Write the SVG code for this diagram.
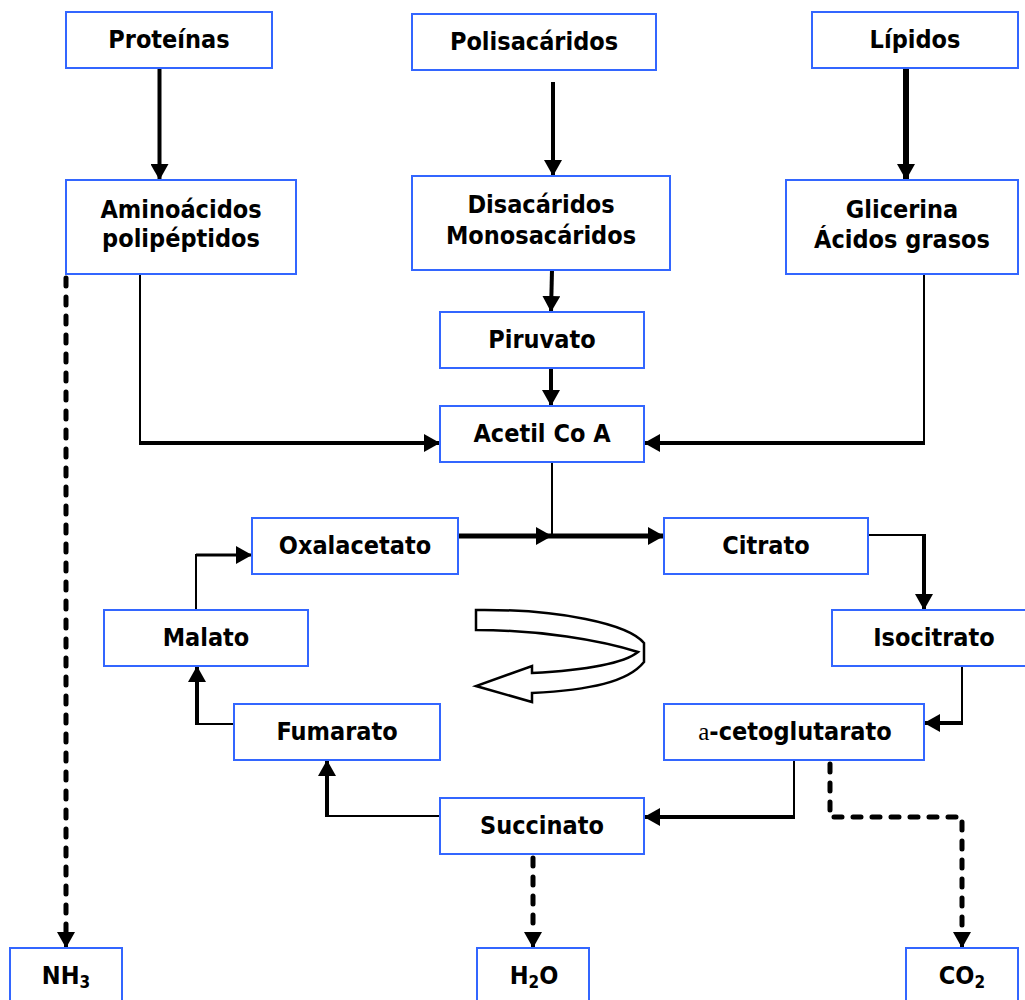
<svg xmlns="http://www.w3.org/2000/svg" width="1025" height="1000" viewBox="0 0 1025 1000">
<style>
.box{fill:#fff;stroke:#3366ff;stroke-width:2}
.t{font-family:"DejaVu Sans Condensed","DejaVu Sans",Verdana,sans-serif;font-stretch:condensed;font-weight:bold;font-size:25px;fill:#000;text-anchor:middle}
.sub{font-size:17px}
.alpha{font-family:"Liberation Serif",serif;font-weight:normal}
.c{fill:none;stroke:#000;stroke-linecap:butt;stroke-linejoin:miter}
.thin{stroke-width:2}
.thick{stroke-width:4}
.thick5{stroke-width:5}
.dash{stroke-dasharray:8 11;stroke-width:5;stroke-linecap:round}
</style>
<defs>
<marker id="ah" markerUnits="userSpaceOnUse" markerWidth="18" markerHeight="18" refX="16" refY="9" orient="auto" viewBox="0 0 18 18">
<path d="M0,0 L16,9 L0,18 Z" fill="#000"/>
</marker>
</defs>

<g id="connectors">
<line class="c thick" x1="159.5" y1="68" x2="159.5" y2="180" marker-end="url(#ah)"/>
<line class="c thick" x1="553" y1="82" x2="553" y2="176" marker-end="url(#ah)"/>
<line class="c" style="stroke-width:6" x1="906" y1="68" x2="906" y2="180" marker-end="url(#ah)"/>
<line class="c thick" x1="552" y1="270" x2="551" y2="312" marker-end="url(#ah)"/>
<line class="c thick" x1="551" y1="368" x2="551" y2="406" marker-end="url(#ah)"/>
<polyline class="c thin" points="140,274 140,443"/>
<line class="c thick" x1="139" y1="443" x2="440" y2="443" marker-end="url(#ah)"/>
<polyline class="c thin" points="924,274 924,443"/>
<line class="c thick" x1="925" y1="443" x2="644" y2="443" marker-end="url(#ah)"/>
<line class="c thin" x1="552" y1="462" x2="552" y2="536"/>
<line class="c thick5" x1="458" y1="536" x2="552" y2="536" marker-end="url(#ah)" stroke-linecap="round"/>
<line class="c thick5" x1="552" y1="536" x2="664" y2="536" marker-end="url(#ah)"/>
<polyline class="c thin" points="868,535 924,535"/>
<line class="c thick" x1="924" y1="534" x2="924" y2="610" marker-end="url(#ah)"/>
<polyline class="c thin" points="962,666 962,723"/>
<line class="c thick" x1="963" y1="723" x2="924" y2="723" marker-end="url(#ah)"/>
<polyline class="c thin" points="794,760 794,817"/>
<line class="c thick" x1="795" y1="817" x2="644" y2="817" marker-end="url(#ah)"/>
<polyline class="c dash" points="830,764 830,817 962,817 962,942"/>
<line class="c thick" x1="962" y1="938" x2="962" y2="948" marker-end="url(#ah)"/>
<line class="c dash" x1="533" y1="858" x2="533" y2="934"/>
<line class="c thick" x1="533" y1="934" x2="533" y2="948" marker-end="url(#ah)"/>
<line class="c dash" x1="66" y1="278" x2="66" y2="934"/>
<line class="c thick" x1="66" y1="934" x2="66" y2="948" marker-end="url(#ah)"/>
<polyline class="c thin" points="440,816 327,816"/>
<line class="c thick" x1="327" y1="817" x2="327" y2="760" marker-end="url(#ah)"/>
<polyline class="c thin" points="234,724 197,724"/>
<line class="c thick" x1="197" y1="725" x2="197" y2="666" marker-end="url(#ah)"/>
<polyline class="c thin" points="196,610 196,555 230,555"/>
<line class="c" style="stroke-width:3" x1="196" y1="555" x2="252" y2="555" marker-end="url(#ah)"/>
</g>

<g id="cycle-arrow">
<path d="M476,610 C560,609 628,624 644,643 L644,662 C628,682 590,690 532,693 L532,702 L476,686 L532,666 L532,673 C590,670 624,663 638,652 C600,640 540,630 476,630 Z" fill="#fff" stroke="#000" stroke-width="2.5" stroke-linejoin="miter"/>
</g>

<g id="proteinas"><rect class="box" x="66" y="12" width="206" height="56"/><text class="t" x="169" y="48">Proteínas</text></g>
<g id="polisacaridos"><rect class="box" x="412" y="14" width="244" height="56"/><text class="t" x="534" y="50">Polisacáridos</text></g>
<g id="lipidos"><rect class="box" x="812" y="12" width="206" height="56"/><text class="t" x="915" y="48">Lípidos</text></g>
<g id="aminoacidos"><rect class="box" x="66" y="180" width="230" height="94"/><text class="t" x="181" y="218">Aminoácidos</text><text class="t" x="181" y="247">polipéptidos</text></g>
<g id="disacaridos"><rect class="box" x="412" y="176" width="258" height="94"/><text class="t" x="541" y="213">Disacáridos</text><text class="t" x="541" y="244">Monosacáridos</text></g>
<g id="glicerina"><rect class="box" x="786" y="180" width="232" height="94"/><text class="t" x="902" y="218">Glicerina</text><text class="t" x="902" y="248">Ácidos grasos</text></g>
<g id="piruvato"><rect class="box" x="440" y="312" width="204" height="56"/><text class="t" x="542" y="348">Piruvato</text></g>
<g id="acetil"><rect class="box" x="440" y="406" width="204" height="56"/><text class="t" x="542" y="442">Acetil Co A</text></g>
<g id="oxalacetato"><rect class="box" x="252" y="518" width="206" height="56"/><text class="t" x="355" y="554">Oxalacetato</text></g>
<g id="citrato"><rect class="box" x="664" y="518" width="204" height="56"/><text class="t" x="766" y="554">Citrato</text></g>
<g id="malato"><rect class="box" x="104" y="610" width="204" height="56"/><text class="t" x="206" y="646">Malato</text></g>
<g id="isocitrato"><rect class="box" x="832" y="610" width="204" height="56"/><text class="t" x="934" y="646">Isocitrato</text></g>
<g id="fumarato"><rect class="box" x="234" y="704" width="206" height="56"/><text class="t" x="337" y="740">Fumarato</text></g>
<g id="cetoglutarato"><rect class="box" x="664" y="704" width="260" height="56"/><text class="t" x="795" y="740"><tspan class="alpha">a</tspan>-cetoglutarato</text></g>
<g id="succinato"><rect class="box" x="440" y="798" width="204" height="56"/><text class="t" x="542" y="834">Succinato</text></g>
<g id="nh3"><rect class="box" x="10" y="948" width="112" height="60"/><text class="t" x="66" y="984">NH<tspan class="sub" dy="4">3</tspan></text></g>
<g id="h2o"><rect class="box" x="477" y="948" width="112" height="60"/><text class="t" x="534" y="984">H<tspan class="sub" dy="4">2</tspan><tspan dy="-4">O</tspan></text></g>
<g id="co2"><rect class="box" x="906" y="948" width="112" height="60"/><text class="t" x="962" y="984">CO<tspan class="sub" dy="4">2</tspan></text></g>
</svg>
